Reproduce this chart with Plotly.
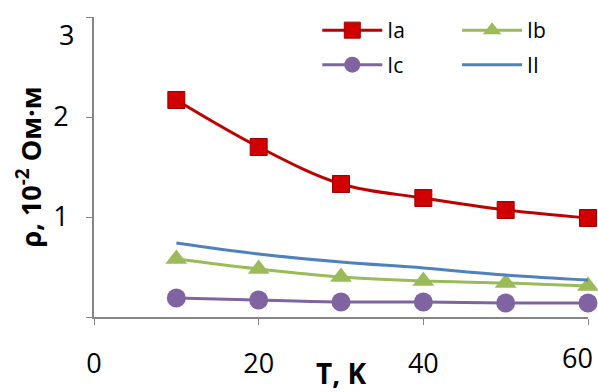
import plotly.graph_objects as go

T = [10, 20, 30, 40, 50, 60]
rho_Ia = [2.17, 1.70, 1.33, 1.19, 1.07, 0.99]
rho_Ib = [0.58, 0.48, 0.40, 0.36, 0.34, 0.31]
rho_Ic = [0.19, 0.17, 0.15, 0.15, 0.14, 0.14]
rho_II = [0.74, 0.63, 0.55, 0.49, 0.42, 0.37]
x_ticks = [0, 20, 40, 60]
x_ticktext = ["0", "20", "40", ""]
y_ticks = [0, 1, 2, 3]
y_ticktext = ["", "1", "2", ""]

FONT = "Open Sans"
TICKSIZE = 27

fig = go.Figure()
fig.add_trace(go.Scatter(x=T, y=rho_Ia, name="Ia", mode="lines+markers", line=dict(color="#C00000", width=3, shape="spline"),
                         marker=dict(symbol="square", size=17, color="#D00000", line=dict(color="#A00000", width=1)),
                         legend="legend", cliponaxis=False))
fig.add_trace(go.Scatter(x=T, y=rho_Ib, name="Ib", mode="lines+markers", line=dict(color="#9BBB59", width=3, shape="spline"),
                         marker=dict(symbol="triangle-up", size=19, color="#9BBB59"),
                         legend="legend2", cliponaxis=False))
fig.add_trace(go.Scatter(x=T, y=rho_Ic, name="Ic", mode="lines+markers", line=dict(color="#8064A2", width=3, shape="spline"),
                         marker=dict(symbol="circle", size=19, color="#8064A2"),
                         legend="legend3", cliponaxis=False))
fig.add_trace(go.Scatter(x=T, y=rho_II, name="II", mode="lines", line=dict(color="#4F81BD", width=3, shape="spline"),
                         legend="legend4", cliponaxis=False))

leg = dict(xanchor="left", yanchor="middle", orientation="v",
           font=dict(size=21, family=FONT), tracegroupgap=0, itemwidth=60,
           bgcolor="rgba(0,0,0,0)", borderwidth=0)

fig.update_layout(
    width=598, height=392,
    margin=dict(l=94, r=10, t=17, b=75),
    showlegend=True,
    paper_bgcolor="white", plot_bgcolor="white",
    font=dict(family=FONT, color="black"),
    legend=dict(leg, x=0.452, y=0.955),
    legend2=dict(leg, x=0.735, y=0.955),
    legend3=dict(leg, x=0.452, y=0.84),
    legend4=dict(leg, x=0.735, y=0.84),
    xaxis=dict(range=[0, 60], tickvals=x_ticks, ticktext=x_ticktext, showgrid=False, zeroline=False,
               showline=True, linecolor="#868686", linewidth=2, automargin=False,
               ticks="outside", ticklen=6, tickcolor="#868686", tickwidth=1,
               tickfont=dict(size=TICKSIZE, family=FONT), ticklabelstandoff=16,
               title=dict(text="<b>T, K</b>", font=dict(size=28, family=FONT), standoff=0)),
    yaxis=dict(range=[0, 3], tickvals=y_ticks, ticktext=y_ticktext, showgrid=False, zeroline=False,
               showline=True, linecolor="#868686", linewidth=2, automargin=False,
               ticks="outside", ticklen=6, tickcolor="#868686", tickwidth=1,
               tickfont=dict(size=TICKSIZE, family=FONT), ticklabelstandoff=12,
               title=dict(text="<b>ρ, 10<sup>-2</sup> Ом·м</b>", font=dict(size=27, family=FONT), standoff=4)),
    annotations=[
        dict(x=x_ticks[-1], y=0, xref="x", yref="y", text=str(x_ticks[-1]), showarrow=False,
             xanchor="center", yanchor="middle", xshift=-11, yshift=-40,
             font=dict(size=TICKSIZE, family=FONT)),
        dict(x=0, y=y_ticks[-1], xref="x", yref="y", text=str(y_ticks[-1]), showarrow=False,
             xanchor="right", yanchor="middle", xshift=-18, yshift=-17,
             font=dict(size=TICKSIZE, family=FONT)),
    ],
)

fig.write_html("out.html")
